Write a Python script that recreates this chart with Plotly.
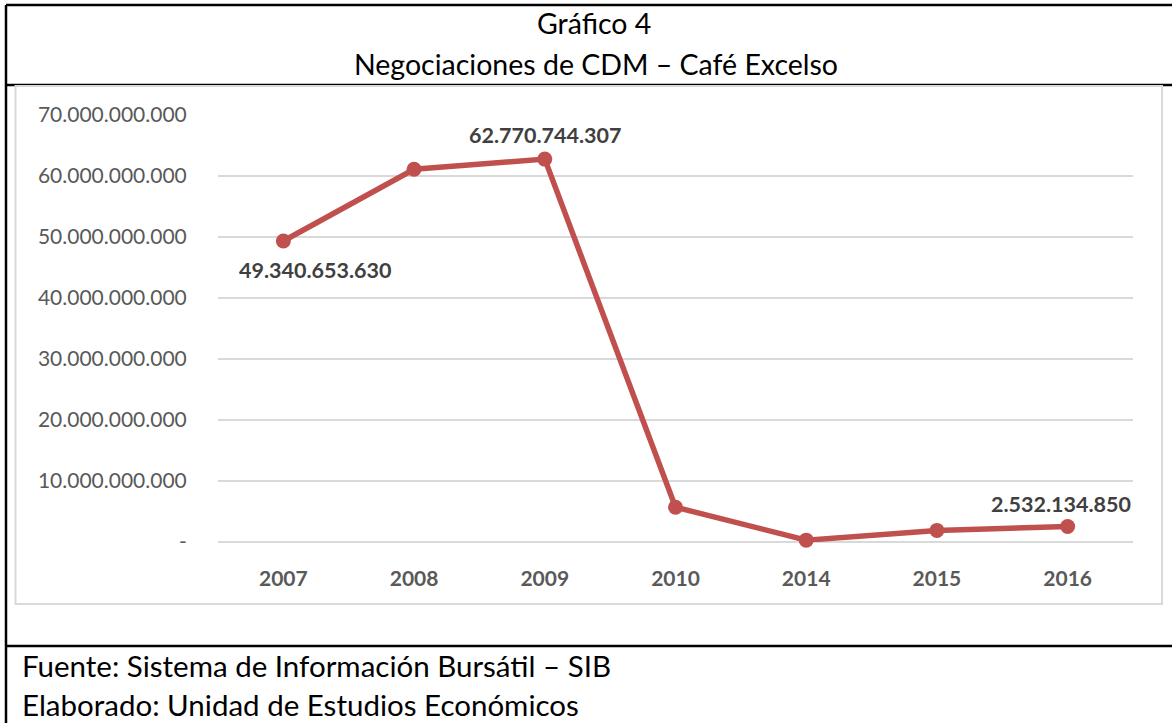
import plotly.graph_objects as go

# data
years = ["2007", "2008", "2009", "2010", "2014", "2015", "2016"]
valores = [49340653630, 61100000000, 62770744307, 5700000000, 300000000, 1900000000, 2532134850]
tick_vals = [0, 10e9, 20e9, 30e9, 40e9, 50e9, 60e9, 70e9]
tick_text = ["-", "10.000.000.000", "20.000.000.000", "30.000.000.000", "40.000.000.000",
             "50.000.000.000", "60.000.000.000", "70.000.000.000"]
# labelled points: (index, text, xshift, yshift)
etiquetas = [(0, "49.340.653.630", 32, -29), (2, "62.770.744.307", 1, 24), (6, "2.532.134.850", -7, 23)]

W, H = 1172, 723
FONT = "Lato"
ROJO = "#C0504D"
pos = list(range(len(years)))

def px_x(v):
    return v / W

def px_y(v):
    return 1 - v / H

fig = go.Figure()
fig.add_trace(go.Scatter(
    x=pos, y=valores, mode="lines+markers",
    line=dict(color=ROJO, width=5.5),
    marker=dict(color=ROJO, size=15),
    cliponaxis=False, showlegend=False, hoverinfo="skip",
))

for i, txt, dx, dy in etiquetas:
    fig.add_annotation(x=pos[i], y=valores[i], text="<b>" + txt + "</b>", showarrow=False,
                       xanchor="center", yanchor="middle",
                       xshift=dx, yshift=dy, font=dict(family=FONT, size=21.5, color="#404040"))

fig.update_xaxes(
    domain=[px_x(218), px_x(1133)], range=[-0.5, len(years) - 0.5], automargin=False,
    tickvals=pos, ticktext=["<b>" + y + "</b>" for y in years],
    showgrid=False, showline=False, zeroline=False,
    ticks="outside", ticklen=18, tickcolor="rgba(0,0,0,0)",
    tickfont=dict(family=FONT, size=21, color="#595959"),
)
fig.update_yaxes(
    domain=[px_y(542), px_y(115)], range=[0, 70e9], automargin=False,
    tickvals=tick_vals, ticktext=tick_text,
    showgrid=True, gridcolor="#D9D9D9", gridwidth=2,
    zeroline=True, zerolinecolor="#D9D9D9", zerolinewidth=2,
    showline=False,
    ticks="outside", ticklen=26, tickcolor="rgba(0,0,0,0)",
    tickfont=dict(family=FONT, size=21, color="#595959"),
)

shapes = [
    # outer frame lines
    dict(x0=px_x(6), x1=1.01, y0=px_y(5), y1=px_y(5)),
    dict(x0=px_x(6), x1=1.01, y0=px_y(85), y1=px_y(85)),
    dict(x0=px_x(6), x1=1.01, y0=px_y(646), y1=px_y(646)),
    dict(x0=px_x(6), x1=px_x(6), y0=px_y(5), y1=-0.01),
]
for s in shapes:
    fig.add_shape(type="line", xref="paper", yref="paper", line=dict(color="black", width=2.5), **s)
# chart area border
fig.add_shape(type="rect", xref="paper", yref="paper",
              x0=px_x(15.5), x1=px_x(1162), y0=px_y(604), y1=px_y(86),
              line=dict(color="#D9D9D9", width=2))

textos = [
    (594, 23, "Gráfico 4", "center", 28.5),
    (596, 64, "Negociaciones de CDM – Café Excelso", "center", 28.5),
    (20, 665, "Fuente: Sistema de Información Bursátil – SIB", "left", 29.5),
    (20, 704, "Elaborado: Unidad de Estudios Económicos", "left", 29.5),
]
for x, y, t, anc, sz in textos:
    fig.add_annotation(xref="paper", yref="paper", x=px_x(x), y=px_y(y), text=t,
                       xanchor=anc, yanchor="middle", showarrow=False,
                       font=dict(family=FONT, size=sz, color="black"))

fig.update_layout(
    template="none",
    width=W, height=H, autosize=False,
    margin=dict(l=0, r=0, t=0, b=0, autoexpand=False),
    paper_bgcolor="white", plot_bgcolor="white",
)

fig.write_html("out.html", config={"responsive": False, "displayModeBar": False},
               post_script="document.body.style.margin='0';")
